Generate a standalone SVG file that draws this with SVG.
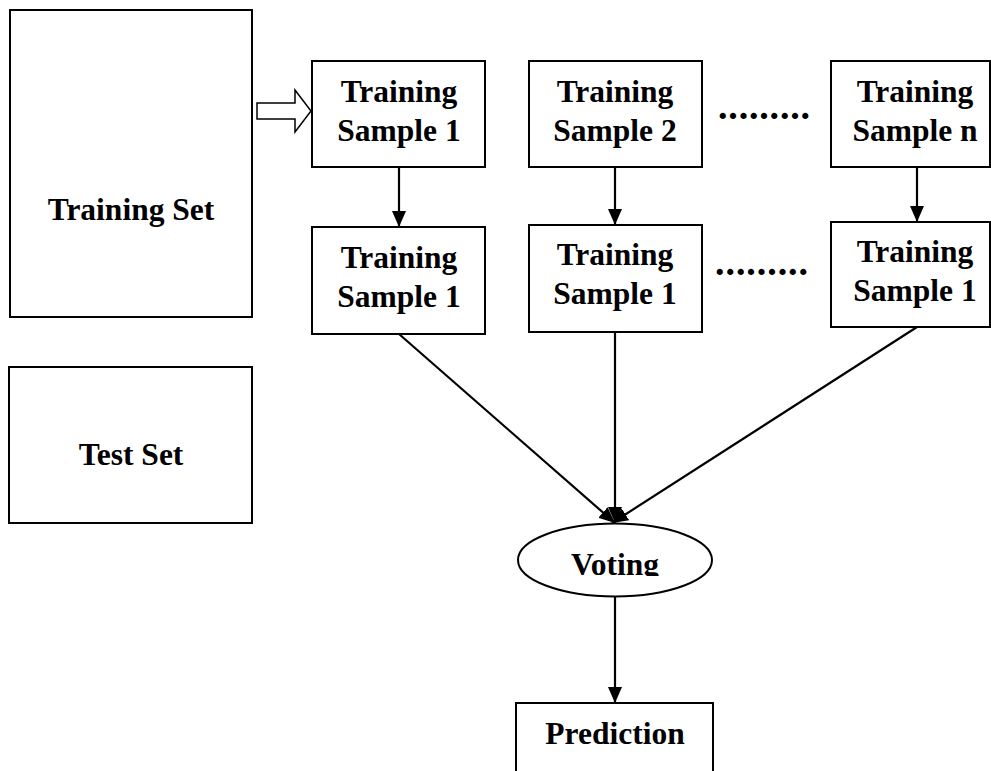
<svg xmlns="http://www.w3.org/2000/svg" width="991" height="771" viewBox="0 0 991 771">
<style>
.box{fill:#fff;stroke:#000;stroke-width:2}
.t{font-family:"Liberation Serif","Times New Roman",serif;font-weight:bold;font-size:31.5px;fill:#000;text-anchor:middle}
.c{stroke:#000;stroke-width:2.2;fill:none}
.dots{font-family:"Liberation Serif","Times New Roman",serif;font-weight:bold;font-size:38px;fill:#000}
</style>
<defs>
<marker id="ah" markerUnits="userSpaceOnUse" markerWidth="16" markerHeight="14" viewBox="0 0 16 14" refX="16" refY="7" orient="auto">
<path d="M0,0 L16,7 L0,14 z" fill="#000"/>
</marker>
<clipPath id="vclip"><rect x="500" y="520" width="230" height="56"/></clipPath>
</defs>
<rect width="991" height="771" fill="#fff"/>
<g id="training-set"><rect class="box" x="10" y="10" width="242" height="307"/><text class="t" x="131" y="220">Training Set</text></g>
<g id="test-set"><rect class="box" x="9" y="367" width="243" height="156"/><text class="t" x="131" y="465">Test Set</text></g>
<g id="ts1-top"><rect class="box" x="312" y="61" width="173" height="106"/><text class="t" x="399" y="102">Training</text><text class="t" x="399" y="141">Sample 1</text></g>
<g id="ts2-top"><rect class="box" x="529" y="61" width="173" height="106"/><text class="t" x="615" y="102">Training</text><text class="t" x="615" y="141">Sample 2</text></g>
<g id="tsn-top"><rect class="box" x="831" y="61" width="159" height="106"/><text class="t" x="915" y="102">Training</text><text class="t" x="915" y="141">Sample n</text></g>
<g id="ts1-bot"><rect class="box" x="312" y="227" width="173" height="107"/><text class="t" x="399" y="268">Training</text><text class="t" x="399" y="307">Sample 1</text></g>
<g id="ts2-bot"><rect class="box" x="529" y="225" width="173" height="107"/><text class="t" x="615" y="265">Training</text><text class="t" x="615" y="304">Sample 1</text></g>
<g id="tsn-bot"><rect class="box" x="831" y="222" width="159" height="105"/><text class="t" x="915" y="262">Training</text><text class="t" x="915" y="301">Sample 1</text></g>
<g id="dots-top"><text class="dots" x="718" y="119" textLength="92" lengthAdjust="spacing">.........</text></g>
<g id="dots-bot"><text class="dots" x="715" y="275" textLength="93" lengthAdjust="spacing">.........</text></g>
<g id="voting"><ellipse class="box" cx="615" cy="560" rx="97" ry="36.5"/><text class="t" x="615" y="575" clip-path="url(#vclip)">Voting</text></g>
<g id="prediction"><rect class="box" x="516" y="703" width="197" height="80"/><text class="t" x="615" y="744">Prediction</text></g>
<g id="connectors">
<path d="M257,103 H295 V90 L311,111 L295,132 V119 H257 Z" fill="#fff" stroke="#000" stroke-width="1.5"/>
<line class="c" x1="399" y1="167" x2="399" y2="227" marker-end="url(#ah)"/>
<line class="c" x1="615" y1="167" x2="615" y2="225" marker-end="url(#ah)"/>
<line class="c" x1="917" y1="167" x2="917" y2="222" marker-end="url(#ah)"/>
<line class="c" x1="399" y1="334" x2="615" y2="523" marker-end="url(#ah)"/>
<line class="c" x1="615" y1="332" x2="615" y2="523" marker-end="url(#ah)"/>
<line class="c" x1="917" y1="327" x2="612" y2="523" marker-end="url(#ah)"/>
<line class="c" x1="615" y1="596" x2="615" y2="703" marker-end="url(#ah)"/>
</g>
</svg>
